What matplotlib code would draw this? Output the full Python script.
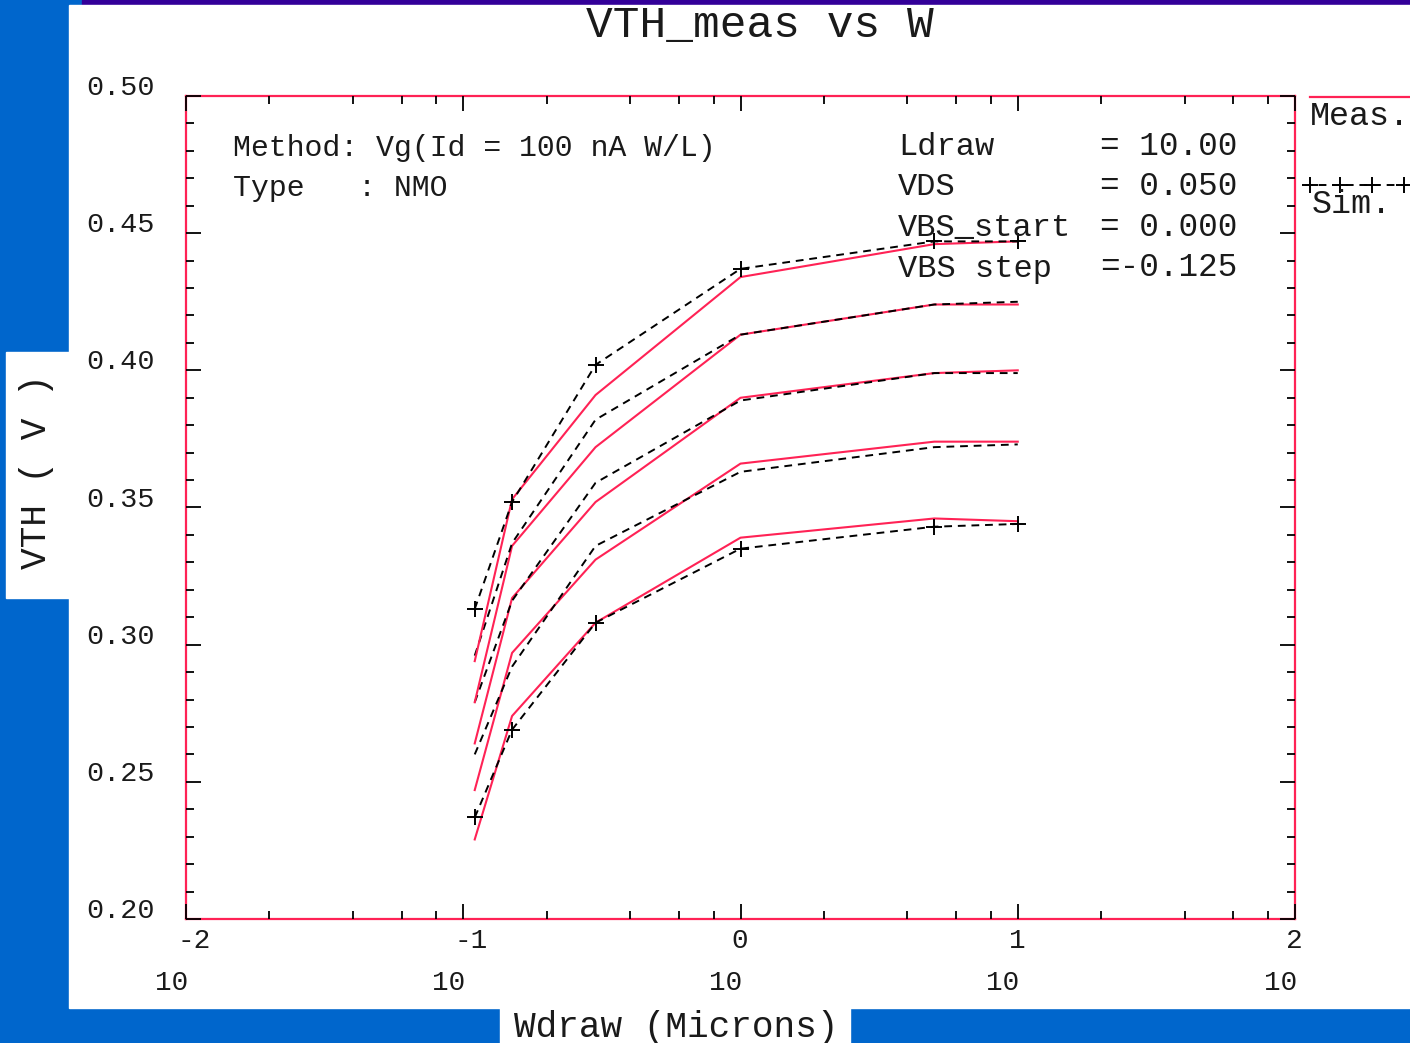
import matplotlib.pyplot as plt
import numpy as np
from matplotlib.patches import Rectangle
from matplotlib.lines import Line2D
from matplotlib.ticker import LogLocator, MultipleLocator, NullFormatter

# drawn widths (um) and threshold voltages per body-bias step (VBS = 0 ... -0.5)
w_draw = [0.11, 0.15, 0.3, 1.0, 5.0, 10.0]
vbs_steps = [0.0, -0.125, -0.25, -0.375, -0.5]
vth_meas = [
    [0.229, 0.274, 0.308, 0.339, 0.346, 0.345],
    [0.247, 0.297, 0.331, 0.366, 0.374, 0.374],
    [0.264, 0.317, 0.352, 0.390, 0.399, 0.400],
    [0.279, 0.336, 0.372, 0.413, 0.424, 0.424],
    [0.294, 0.353, 0.391, 0.434, 0.446, 0.447],
]
vth_sim = [
    [0.237, 0.269, 0.308, 0.335, 0.343, 0.344],
    [0.260, 0.292, 0.336, 0.363, 0.372, 0.373],
    [0.279, 0.316, 0.359, 0.389, 0.399, 0.399],
    [0.296, 0.337, 0.382, 0.413, 0.424, 0.425],
    [0.313, 0.352, 0.402, 0.437, 0.447, 0.447],
]
x_exponents = [-2, -1, 0, 1, 2]
y_ticks = [0.20, 0.25, 0.30, 0.35, 0.40, 0.45, 0.50]

W, H = 1410, 1043
BLUE = '#0066cc'
PURPLE = '#330099'
RED = '#ff2255'
INK = '#1a1a1a'
MONO = ['Liberation Mono', 'DejaVu Sans Mono']

fig = plt.figure(figsize=(W / 100, H / 100), dpi=100, facecolor=BLUE)


def fx(x):
    return x / W


def fy(y):
    return 1 - y / H


def box(x0, y0, x1, y1, color):
    fig.patches.append(Rectangle((fx(x0), fy(y1)), (x1 - x0) / W, (y1 - y0) / H,
                                 transform=fig.transFigure, color=color, zorder=-1))


# slide background pieces
box(82, 0, W, 5, PURPLE)
box(69, 5, W, 1008, 'white')
box(6, 352, 69, 598, 'white')
box(500, 1008, 850, H, 'white')

ax = fig.add_axes([fx(186), fy(919), (1295 - 186) / W, (919 - 96) / H])
ax.set_facecolor('white')
ax.set_xscale('log')
ax.set_xlim(1e-2, 1e2)
ax.set_ylim(0.2, 0.5)

for meas, sim in zip(vth_meas, vth_sim):
    ax.plot(w_draw, meas, color=RED, lw=1.5, zorder=2)
    ax.plot(w_draw, sim, color='black', lw=1.4, linestyle=(0, (4, 3)), zorder=2)

# markers on the first and last bias curves
for sim in (vth_sim[0], vth_sim[-1]):
    ax.plot(w_draw, sim, linestyle='none', marker='+', ms=11, mew=1.4, color='black', zorder=3)

for s in ax.spines.values():
    s.set_color(RED)
    s.set_linewidth(1.6)

ax.xaxis.set_major_locator(LogLocator(base=10))
ax.xaxis.set_minor_locator(LogLocator(base=10, subs=(2, 4, 6, 8)))
ax.xaxis.set_minor_formatter(NullFormatter())
ax.yaxis.set_major_locator(MultipleLocator(0.05))
ax.yaxis.set_minor_locator(MultipleLocator(0.01))
ax.tick_params(which='both', direction='in', top=True, right=True, color='black',
               labelbottom=False, labelleft=False)
ax.tick_params(which='major', length=11, width=1.3)
ax.tick_params(which='minor', length=5.5, width=1.3)
ax.xaxis.set_zorder(3)
ax.yaxis.set_zorder(3)

# decade labels: exponent on top, "10" beneath
for e in x_exponents:
    ax.annotate(str(e), xy=(10.0 ** e, 0), xycoords=('data', 'axes fraction'),
                xytext=(-9, -29), textcoords='offset pixels', ha='left', va='baseline',
                family=MONO, size=20, color=INK, annotation_clip=False)
    ax.annotate('10', xy=(10.0 ** e, 0), xycoords=('data', 'axes fraction'),
                xytext=(2, -71), textcoords='offset pixels', ha='right', va='baseline',
                family=MONO, size=20, color=INK, annotation_clip=False)

for v in y_ticks:
    ax.annotate(f'{v:.2f}', xy=(0, v), xycoords=('axes fraction', 'data'),
                xytext=(-31, 1), textcoords='offset pixels', ha='right', va='baseline',
                family=MONO, size=20.5, color=INK, annotation_clip=False)

fig.text(fx(760), fy(37), 'VTH_meas vs W', ha='center', va='baseline',
         family=MONO, size=32, color=INK)
fig.text(fx(37), fy(472), 'VTH ( V )', rotation=90, ha='center', va='center',
         family=MONO, size=26, color=INK)
fig.text(fx(676), fy(1037), 'Wdraw (Microns)', ha='center', va='baseline',
         family=MONO, size=26, color=INK)

# run conditions
fig.text(fx(233), fy(156), 'Method: Vg(Id = 100 nA W/L)', ha='left', va='baseline',
         family=MONO, size=21.5, color=INK)
fig.text(fx(233), fy(196), 'Type   : NMO', ha='left', va='baseline',
         family=MONO, size=21.5, color=INK)
cond_names = ['Ldraw', 'VDS', 'VBS_start', 'VBS step']
cond_values = ['= 10.00', '= 0.050', '= 0.000', '=-0.125']
for i, (name, val) in enumerate(zip(cond_names, cond_values)):
    yb = 155 + i * 40.5
    fig.text(fx(898), fy(yb), name, ha='left', va='baseline',
             family=MONO, size=23, color=INK)
    fig.text(fx(1100), fy(yb), val, ha='left', va='baseline',
             family=MONO, size=23.5, color=INK)

# legend at the right edge
fig.lines.append(Line2D([fx(1310), 1.0], [fy(97), fy(97)], transform=fig.transFigure,
                        color=RED, lw=1.6))
fig.text(fx(1310), fy(125), 'Meas.', ha='left', va='baseline', family=MONO, size=24, color=INK)
fig.lines.append(Line2D([fx(1305), 1.0], [fy(185), fy(185)], transform=fig.transFigure,
                        color='black', lw=1.4, linestyle=(0, (4, 3))))
fig.lines.append(Line2D([fx(1310), fx(1340), fx(1372), fx(1404)], [fy(185)] * 4,
                        transform=fig.transFigure, linestyle='none', marker='+',
                        ms=11, mew=1.4, color='black'))
fig.text(fx(1312), fy(213), 'Sim.', ha='left', va='baseline', family=MONO, size=24, color=INK)

fig.savefig('out.png', dpi=100, facecolor=BLUE)
